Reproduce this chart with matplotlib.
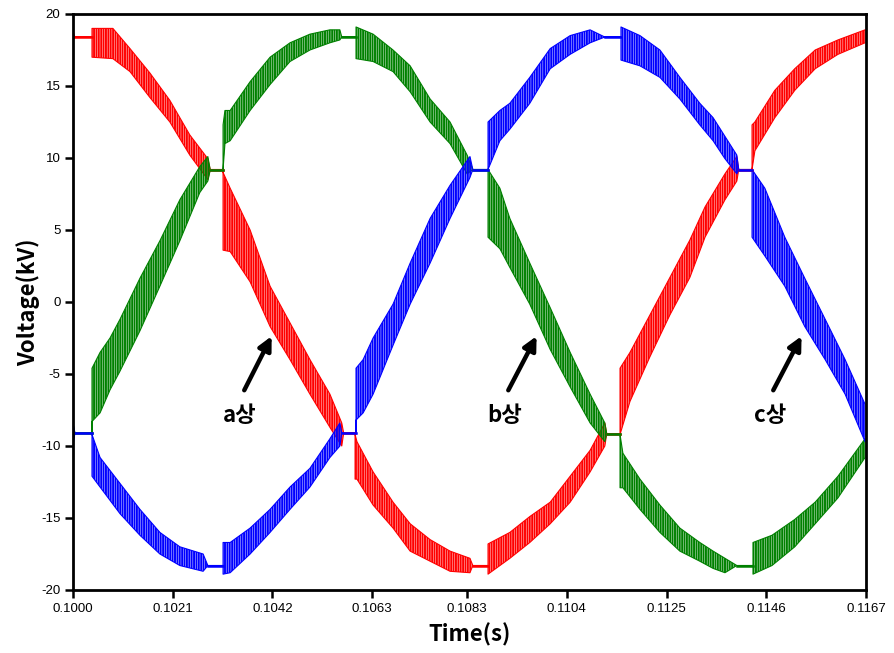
import matplotlib
matplotlib.use("Agg")
import matplotlib.pyplot as plt
import numpy as np

plt.rcParams['axes.unicode_minus'] = False
plt.rcParams['hatch.linewidth'] = 1.4

# envelope: time (s), upper (kV), lower (kV)
t_a = [0.10000, 0.10004, 0.10040, 0.10040, 0.10084, 0.10120, 0.10162, 0.10204, 0.10246, 0.10284,
       0.10289, 0.10316, 0.10316, 0.10331, 0.10373, 0.10415, 0.10457, 0.10499, 0.10541, 0.10566,
       0.10570, 0.10594, 0.10594, 0.10598, 0.10632, 0.10674, 0.10710, 0.10752, 0.10794, 0.10836,
       0.10842, 0.10874, 0.10874, 0.10920, 0.10962, 0.11005, 0.11047, 0.11089, 0.11120,
       0.11124, 0.11152, 0.11152, 0.11173, 0.11215, 0.11257, 0.11299, 0.11331, 0.11373, 0.11398,
       0.11402, 0.11430, 0.11430, 0.11436, 0.11478, 0.11520, 0.11563, 0.11611, 0.11668]
hi_a = [18.8, 18.4, 18.4, 19.0, 19.0, 17.6, 15.9, 14.0, 11.6, 9.95,
        9.2, 9.2, 9.0, 7.9, 5.0, 1.1, -1.45, -4.0, -6.4, -8.4,
        -9.1, -9.1, -9.2, -9.7, -11.8, -13.9, -15.4, -16.5, -17.3, -17.8,
        -18.3, -18.3, -16.8, -16.0, -14.9, -13.9, -12.1, -10.3, -8.4,
        -9.15, -9.15, -4.6, -3.5, -0.9, 1.7, 4.3, 6.6, 8.9, 10.1,
        9.2, 9.2, 12.3, 12.5, 14.7, 16.2, 17.5, 18.2, 18.9]
lo_a = [18.2, 18.4, 18.4, 17.0, 16.9, 16.0, 14.2, 12.5, 10.2, 8.5,
        9.2, 9.2, 3.6, 3.5, 1.4, -1.7, -4.0, -6.4, -8.7, -10.0,
        -9.1, -9.1, -12.3, -12.3, -14.1, -15.7, -17.3, -18.0, -18.7, -18.8,
        -18.3, -18.3, -18.9, -17.8, -16.7, -15.4, -13.9, -11.8, -10.0,
        -9.15, -9.15, -9.2, -6.9, -3.8, -0.9, 1.7, 4.5, 7.1, 8.4,
        9.2, 9.2, 9.2, 10.5, 12.8, 14.7, 16.2, 17.2, 18.0]

t_b = [0.10000, 0.10004, 0.10040, 0.10040, 0.10057, 0.10078, 0.10099, 0.10141, 0.10183, 0.10225,
       0.10267, 0.10284, 0.10289, 0.10316, 0.10316, 0.10320, 0.10331, 0.10373, 0.10415, 0.10457,
       0.10499, 0.10541, 0.10562, 0.10566, 0.10596, 0.10596, 0.10632, 0.10674, 0.10710, 0.10752,
       0.10794, 0.10830, 0.10842, 0.10874, 0.10874, 0.10899, 0.10920, 0.10962, 0.11005, 0.11047,
       0.11089, 0.11120, 0.11124, 0.11152, 0.11152, 0.11158, 0.11194, 0.11236, 0.11278, 0.11320,
       0.11348, 0.11373, 0.11398, 0.11432, 0.11432, 0.11472, 0.11520, 0.11563, 0.11611, 0.11668]
hi_b = [-8.4, -9.1, -9.1, -4.6, -3.5, -2.5, -1.2, 1.65, 4.25, 7.1,
        9.4, 10.1, 9.17, 9.17, 12.3, 13.3, 13.3, 15.3, 17.0, 18.0,
        18.6, 18.9, 18.9, 18.4, 18.4, 19.1, 18.6, 17.5, 16.4, 14.1,
        12.5, 10.2, 9.2, 9.2, 9.2, 7.9, 5.8, 2.7, -0.4, -3.5,
        -6.4, -8.4, -9.15, -9.15, -9.2, -10.5, -12.3, -14.1, -15.7, -16.7,
        -17.3, -17.8, -18.3, -18.3, -16.7, -16.2, -15.1, -13.9, -12.1, -9.5]
lo_b = [-9.6, -9.1, -9.1, -8.3, -7.7, -6.1, -4.8, -2.0, 1.1, 4.25,
        7.6, 8.4, 9.17, 9.17, 9.2, 11.0, 11.2, 13.3, 15.1, 16.7,
        17.5, 18.0, 18.2, 18.4, 18.4, 16.9, 16.7, 16.0, 14.6, 12.5,
        11.0, 8.9, 9.2, 9.2, 4.5, 3.7, 2.4, -0.15, -3.3, -5.9,
        -8.4, -9.7, -9.15, -9.15, -12.9, -12.9, -14.4, -16.0, -17.3, -18.0,
        -18.5, -18.8, -18.3, -18.3, -18.9, -18.3, -17.0, -15.4, -13.6, -10.8]

t_c = [0.10000, 0.10004, 0.10040, 0.10040, 0.10057, 0.10099, 0.10141, 0.10183, 0.10225, 0.10274,
       0.10284, 0.10316, 0.10316, 0.10331, 0.10373, 0.10415, 0.10457, 0.10499, 0.10541, 0.10562,
       0.10566, 0.10596, 0.10596, 0.10611, 0.10632, 0.10674, 0.10710, 0.10752, 0.10794, 0.10836,
       0.10842, 0.10874, 0.10874, 0.10899, 0.10920, 0.10962, 0.11005, 0.11047, 0.11089,
       0.11120, 0.11154, 0.11154, 0.11194, 0.11236, 0.11278, 0.11320, 0.11348, 0.11373, 0.11398,
       0.11402, 0.11430, 0.11430, 0.11457, 0.11499, 0.11541, 0.11584, 0.11626, 0.11668]
hi_c = [-8.4, -9.1, -9.1, -9.2, -10.8, -12.6, -14.4, -16.0, -17.0, -17.5,
        -18.3, -18.3, -16.7, -16.7, -15.7, -14.4, -12.85, -11.55, -9.5, -8.4,
        -9.1, -9.1, -4.6, -4.0, -2.5, -0.15, 2.7, 5.8, 8.1, 10.1,
        9.2, 9.2, 12.5, 13.3, 13.8, 15.6, 17.6, 18.5, 18.9,
        18.4, 18.4, 19.1, 18.5, 17.5, 15.6, 13.8, 12.8, 11.5, 10.2,
        9.2, 9.2, 9.2, 7.9, 4.5, 1.65, -1.2, -4.0, -7.1]
lo_c = [-10.0, -9.1, -9.1, -12.1, -12.85, -14.7, -16.2, -17.5, -18.3, -18.7,
        -18.3, -18.3, -18.9, -18.8, -17.5, -16.0, -14.4, -12.85, -10.8, -10.0,
        -9.1, -9.1, -8.2, -7.7, -6.4, -3.0, -0.15, 2.7, 5.8, 8.65,
        9.2, 9.2, 9.2, 11.2, 12.0, 13.8, 16.2, 17.2, 18.0,
        18.4, 18.4, 16.8, 16.4, 15.6, 14.1, 12.3, 11.2, 9.95, 8.9,
        9.2, 9.2, 4.5, 3.2, 1.1, -1.7, -4.0, -6.4, -9.7]

x_ticks = [0.1000, 0.1021, 0.1042, 0.1063, 0.1083, 0.1104, 0.1125, 0.1146, 0.1167]
x_labels = ['0.1000', '0.1021', '0.1042', '0.1063', '0.1083', '0.1104', '0.1125', '0.1146', '0.1167']
y_ticks = [-20, -15, -10, -5, 0, 5, 10, 15, 20]

# phase labels: text position, arrow tail, arrow head
phase_names = ['a상', 'b상', 'c상']
label_t = [0.10352, 0.10910, 0.11468]
label_v = [-7.85, -7.85, -7.85]
tail_t = [0.10358, 0.10914, 0.11472]
head_t = [0.10421, 0.10979, 0.11537]
tail_v = -6.3
head_v = -2.2

fig = plt.figure(figsize=(8.94, 6.53), dpi=100)
ax = fig.add_axes([73 / 894, 63 / 653, 793 / 894, 576 / 653])

for t, hi, lo, col in [(t_a, hi_a, lo_a, '#ff0000'),
                       (t_b, hi_b, lo_b, '#008000'),
                       (t_c, hi_c, lo_c, '#0000ff')]:
    hi = np.array(hi)
    lo = np.array(lo)
    # ripple band drawn as vertical strokes
    ax.fill_between(t, lo, hi, facecolor='none', edgecolor=col, hatch='|' * 7, lw=0)
    ax.fill_between(t, lo, hi, facecolor='none', edgecolor=col, lw=0.8)
    # clamped (flat) parts as a plain line
    flat = np.where(np.abs(hi - lo) < 0.05, hi, np.nan)
    ax.plot(t, flat, color=col, lw=1.8)

ax.set_xlim(0.1, 0.1167)
ax.set_ylim(-20, 20)
ax.set_xticks(x_ticks)
ax.set_xticklabels(x_labels)
ax.set_yticks(y_ticks)
ax.tick_params(direction='out', length=6, width=1.8, labelsize=9.5, pad=3)
for lab in ax.get_xticklabels() + ax.get_yticklabels():
    lab.set_family('Liberation Sans')
for sp in ax.spines.values():
    sp.set_linewidth(2)

ax.set_xlabel('Time(s)', fontsize=16, fontweight='bold', family='Noto Sans CJK KR', labelpad=6)
ax.set_ylabel('Voltage(kV)', fontsize=16, fontweight='bold', family='Noto Sans CJK KR')
ax.yaxis.set_label_coords(-0.042, 0.5)

for i in range(3):
    ax.text(label_t[i], label_v[i], phase_names[i], ha='center', va='center',
            fontsize=16, fontweight='bold', family='Noto Sans CJK KR')
    ax.annotate('', xy=(head_t[i], head_v), xytext=(tail_t[i], tail_v),
                arrowprops=dict(arrowstyle='-|>', lw=3.2, color='black', mutation_scale=20))

fig.savefig('out.png', dpi=100)
